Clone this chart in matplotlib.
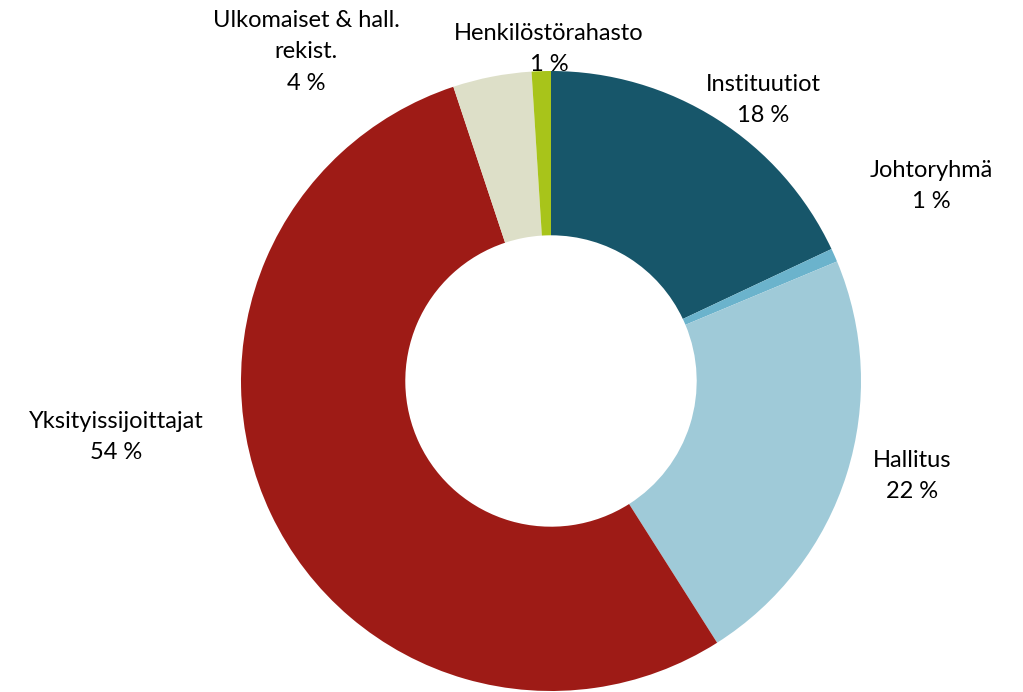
import matplotlib.pyplot as plt

labels = ["Instituutiot", "Johtoryhmä", "Hallitus", "Yksityissijoittajat",
          "Ulkomaiset & hall.\nrekist.", "Henkilöstörahasto"]
values = [18.0, 0.7, 22.3, 53.9, 4.1, 1.0]
shown_pct = ["18 %", "1 %", "22 %", "54 %", "4 %", "1 %"]
colors = ["#17566A", "#6BB3CC", "#9FCAD8", "#9E1B16", "#DDDFC8", "#A8C41A"]

# label anchor points in pixel coords (x, y from top)
label_pos = [(763, 100), (931, 186), (912, 476), (116, 437), (306, 52), (549, 49)]

plt.rcParams['font.family'] = ['Lato', 'DejaVu Sans']

W, H = 1023, 692
fig = plt.figure(figsize=(W / 100, H / 100), dpi=100)
ax = fig.add_axes([0, 0, 1, 1])

cx, cy, r = 551, H - 381, 310
ax.pie(values, colors=colors, startangle=90, counterclock=False,
       center=(cx, cy), radius=r, frame=True,
       wedgeprops=dict(width=r * 0.53, linewidth=0))
ax.set_xlim(0, W)
ax.set_ylim(0, H)
ax.set_aspect('equal')
ax.axis('off')

for lab, pct, (x, y) in zip(labels, shown_pct, label_pos):
    ax.text(x, H - y, lab + "\n" + pct, ha='center', va='center',
            fontsize=17, linespacing=1.6, color='black')

fig.savefig("out.png", dpi=100)
